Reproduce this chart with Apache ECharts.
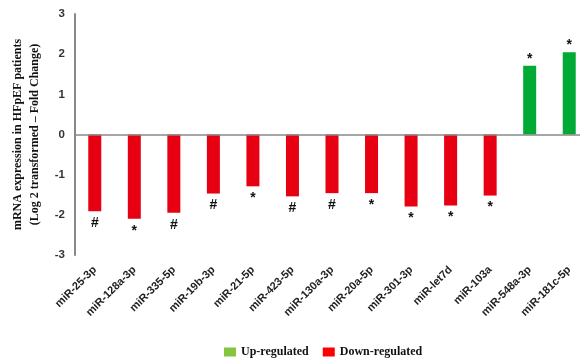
<!DOCTYPE html>
<html><head><meta charset="utf-8">
<script src="https://cdn.jsdelivr.net/npm/echarts@6/dist/echarts.min.js"></script>
<style>html,body{margin:0;padding:0;background:#fff}#c{width:580px;height:361px}</style>
</head><body><div id="c"></div>
<script>
var categories = ['miR-25-3p','miR-128a-3p','miR-335-5p','miR-19b-3p','miR-21-5p','miR-423-5p','miR-130a-3p','miR-20a-5p','miR-301-3p','miR-let7d','miR-103a','miR-548a-3p','miR-181c-5p'];
var downValues = [-1.91,-2.10,-1.95,-1.47,-1.29,-1.54,-1.46,-1.46,-1.79,-1.77,-1.52,null,null];
var upValues = [null,null,null,null,null,null,null,null,null,null,null,1.71,2.05];
var markers = ['#','*','#','#','*','#','#','*','*','*','*','*','*'];
var yTicks = [-3,-2,-1,0,1,2,3];

var chart = echarts.init(document.getElementById('c'));
function lab(pos, dist){
  return {show:true, position:pos, distance:dist, color:'#111', fontFamily:'Liberation Sans, Arial', fontWeight:'bold', fontSize:14,
    formatter:function(p){return markers[p.dataIndex];}};
}
chart.setOption({
  animation:false,
  grid:{left:75, top:14, height:241, width:514, outerBoundsMode:'none', containLabel:false},
  legend:{bottom:0, left:219, padding:[0,5,3,5], itemWidth:12, itemHeight:9, itemGap:14,
    textStyle:{fontFamily:'Liberation Serif, Times New Roman', fontWeight:'bold', fontSize:12, color:'#111'},
    data:[{name:'Up-regulated', icon:'rect', itemStyle:{color:'#84C441'}},{name:'Down-regulated', icon:'rect', itemStyle:{color:'#FF0000'}}]},
  xAxis:{type:'category', data:categories,
    axisLine:{show:false, onZero:false}, axisTick:{show:false},
    axisLabel:{rotate:45, interval:0, margin:13, color:'#222', fontFamily:'Liberation Sans, Arial', fontWeight:'bold', fontSize:11}},
  yAxis:{type:'value', min:yTicks[0], max:yTicks[yTicks.length-1], interval:1,
    name:'mRNA expression in HFpEF patients\n(Log 2 transformed \u2013 Fold Change)',
    nameLocation:'middle', nameGap:31, nameRotate:90,
    nameTextStyle:{fontFamily:'Liberation Serif, Times New Roman', fontWeight:'bold', fontSize:12, color:'#111', lineHeight:17},
    axisLine:{show:true, lineStyle:{color:'#888', width:2}}, axisTick:{show:false}, splitLine:{show:false},
    axisLabel:{margin:10, color:'#333', fontFamily:'Liberation Sans, Arial', fontWeight:'bold', fontSize:11.5}},
  series:[
    {name:'Down-regulated', type:'bar', data:downValues, barWidth:13, barGap:'-100%', itemStyle:{color:'#E60012'},
      label:lab('bottom',5),
      markLine:{silent:true, symbol:'none', label:{show:false}, lineStyle:{color:'#888', width:1.5, type:'solid'}, data:[{yAxis:0}]}},
    {name:'Up-regulated', type:'bar', data:upValues, barWidth:13, barGap:'-100%', itemStyle:{color:'#00AA35'},
      label:lab('top',0)}
  ]
});
</script></body></html>
